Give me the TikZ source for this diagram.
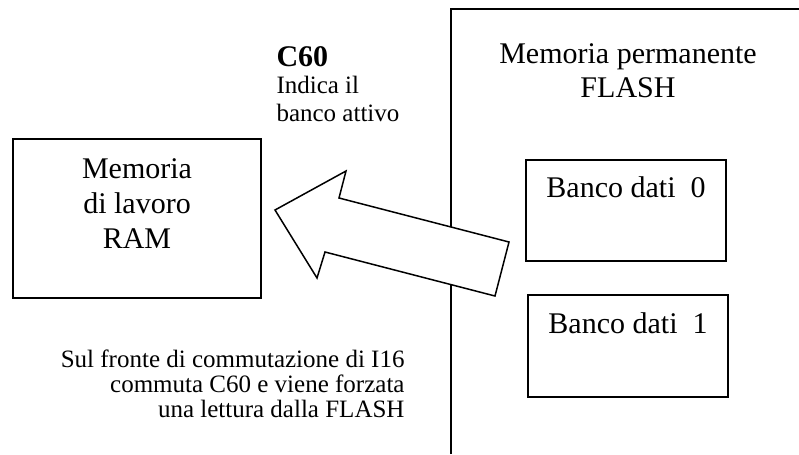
\documentclass[tikz,border=0pt]{standalone}
\usepackage{fontspec}
\setmainfont{Liberation Serif}
\usetikzlibrary{positioning}

\begin{document}
\begin{tikzpicture}[x=0.4pt,y=-0.4pt,
	box/.style={draw,line width=0.6pt,inner sep=0pt},
	big/.style={font=\fontsize{12}{13.8}\selectfont,align=center,inner sep=0pt},
	small/.style={font=\fontsize{10}{11}\selectfont,inner sep=0pt}]

\useasboundingbox (0,0) rectangle (799,454);

% memoria flash (bordo aperto a destra e in basso)
\coordinate (flbot) at (451,454);
\coordinate (fltop) at (451,9);
\coordinate (flend) at (799,9);
\draw[line width=0.8pt] (flbot) -- (fltop) -- (flend);
\node[big,anchor=north]	(fltxt) at (628,43)	{Memoria permanente\\FLASH};

% freccia di lettura
\draw[line width=0.6pt,fill=white] (275,210) -- (346,171) -- (339,198) -- (509,242)
	-- (495,296) -- (325,252) -- (317,278) -- cycle;

% RAM
\node[box,line width=0.8pt,minimum width=99.2pt,minimum height=63.6pt] (ram) at (137,218.5) {};
\node[big,font=\fontsize{12}{14}\selectfont,below=8pt of ram.north]	(ramtxt)	{Memoria\\di lavoro\\RAM};

% banchi
\node[box,minimum width=80pt,minimum height=40.4pt]	(banco0) at (626,210.5) {};
\node[big,below=6.6pt of banco0.north]	(banco0txt)	{Banco dati~ 0};
\node[box,minimum width=80pt,minimum height=40.8pt]	(banco1) at (628,346) {};
\node[big,below=7pt of banco1.north]	(banco1txt)	{Banco dati~ 1};

% note
\node[inner sep=0pt,font=\fontsize{12}{13.8}\selectfont\bfseries,anchor=base west] (c60) at (276,66) {C60};
\node[small,align=left,anchor=north west]	(c60note) at (276,76)	{Indica il\\banco attivo};
\node[small,font=\fontsize{10}{10}\selectfont,align=right,anchor=north east] (fronte) at (405,349)
	{Sul fronte di commutazione di I16\\commuta C60 e viene forzata\\una lettura dalla FLASH};
\end{tikzpicture}
\end{document}
